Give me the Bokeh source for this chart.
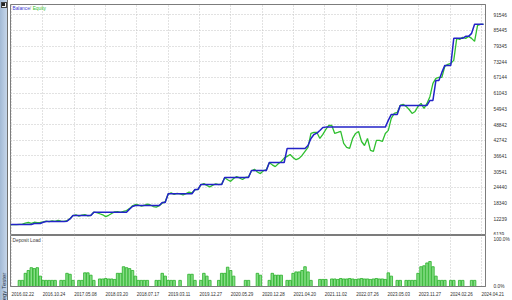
from bokeh.plotting import figure
from bokeh.models import Range1d, FixedTicker, CustomJSTickFormatter, Label, Div, ColumnDataSource
from bokeh.layouts import row, column
from bokeh.embed import file_html
from bokeh.resources import INLINE

# ---------------- data ----------------
balance = (
    [10000] * 8 + [10400] * 3 + [10900] + [11200] * 7 + [11300] + [12200]
    + [13500] * 7 + [14800] * 12 + [16000, 17000, 17400] + [17400] * 8
    + [18600] * 2 + [21950] * 9 + [23600] * 2 + [25570] * 8 + [28300] * 9
    + [31000] * 6 + [34100] * 6 + [39560] * 7
    + [40700, 43450, 45000, 45500, 46560, 47700] + [47850] * 21
    + [50450, 52780] + [52780] * 2 + [56280] * 10 + [58220] * 2 + [66000] * 2
    + [69100] + [71830] * 3 + [82330] * 4 + [83100] * 2 + [84270] + [87770] * 4
)

equity = [
    10000, 10000, 10000, 10100, 10200, 10600, 10800, 10500, 10900, 10700,
    10800, 11000, 11300, 11100, 11400, 11200, 11600, 11300, 11200, 11500,
    12300, 13500, 13800, 13300, 13700, 13900, 13400, 13600, 14800, 14600,
    14200, 13800, 13100, 13600, 14300, 14900, 15000, 14700, 15100, 15400,
    16200, 17300, 17800, 17600, 17200, 17500, 17900, 17600, 17000, 16800,
    17300, 18300, 18900, 21800, 22300, 21700, 22100, 21900, 21500, 22000,
    22600, 22300, 23500, 23700, 25400, 25900, 25200, 24600, 25300, 25800,
    25500, 25700, 28200, 27400, 26800, 27900, 28600, 28100, 27500, 28300,
    28500, 30800, 31500, 30400, 29800, 30900, 31300, 34000, 33200, 32500,
    33600, 34500, 35800, 36500, 37200, 36000, 35200, 35700, 36850, 38400,
    39950, 45400, 45790, 45790, 43450, 45000, 46950, 48500, 48500, 45400,
    45790, 46200, 41510, 39950, 39570, 43450, 45400, 46170, 42260, 40710,
    43450, 38790, 38400, 42680, 42680, 42300, 45400, 46570, 51230, 53170,
    53560, 56280, 56670, 55890, 54700, 53170, 53950, 55890, 57060, 55110,
    57060, 59780, 64830, 66770, 67160, 67160, 71440, 72220, 72610, 73770,
    82330, 81940, 82720, 82330, 83100, 82330, 81160, 87380, 87770, 87770,
]

deposit_load = [
    0, 0, 0, 13, 13, 28, 34, 40, 38, 40,
    22, 13, 13, 13, 13, 13, 0, 13, 13, 28,
    26, 13, 0, 13, 13, 29, 29, 24, 13, 0,
    16, 16, 17, 16, 16, 15, 28, 28, 42, 40,
    38, 34, 22, 13, 13, 13, 13, 0, 0, 13,
    13, 28, 22, 13, 13, 13, 0, 13, 0, 0,
    26, 26, 13, 0, 13, 28, 22, 13, 0, 0,
    13, 28, 28, 41, 34, 22, 0, 0, 0, 13,
    13, 0, 0, 28, 24, 0, 0, 13, 28, 24,
    24, 24, 0, 13, 13, 28, 31, 31, 34, 42,
    31, 13, 0, 0, 15, 15, 15, 0, 16, 16,
    15, 17, 16, 16, 17, 16, 15, 16, 17, 16,
    16, 15, 16, 17, 16, 16, 15, 29, 22, 0,
    13, 13, 0, 13, 13, 13, 13, 28, 42, 44,
    50, 53, 42, 22, 13, 13, 13, 0, 13, 13,
    0, 13, 13, 0, 0, 13, 13, 0, 0, 0,
]

value_ticks = [6139, 12239, 18340, 24440, 30541, 36641, 42742, 48842,
               54943, 61043, 67144, 73244, 79345, 85445, 91546]
date_labels = ["2016.02.22", "2016.10.24", "2017.05.08", "2018.03.20",
               "2018.07.17", "2019.03.11", "2019.12.27", "2020.05.29",
               "2020.12.28", "2021.04.20", "2021.11.02", "2022.07.26",
               "2023.05.03", "2023.11.27", "2024.02.26", "2024.04.21"]
date_ticks = [0.33 + 10.533 * k for k in range(len(date_labels))]
load_ticks = [0, 100]

trade = list(range(len(balance)))

BLUE = "#2323c8"
GREEN = "#2fbf2f"
GRID = "#c4c4c4"
FRAME = "#7c7c7c"
TXT = "#303030"
FONT = "Liberation Sans"

# ---------------- main panel ----------------
p1 = figure(width=504, height=235, x_range=Range1d(0, 159.67),
            y_range=Range1d(6139, 95480), output_backend="svg",
            toolbar_location=None, x_axis_location=None, y_axis_location="right",
            min_border_left=2, min_border_right=23, min_border_top=4,
            min_border_bottom=1)
p1.background_fill_color = "white"
p1.border_fill_color = "white"
p1.outline_line_color = FRAME
p1.outline_line_width = 1

p1.yaxis.ticker = FixedTicker(ticks=value_ticks)
p1.yaxis.formatter = CustomJSTickFormatter(code="return Math.round(tick).toString();")
p1.yaxis.major_tick_line_color = None
p1.yaxis.minor_tick_line_color = None
p1.yaxis.axis_line_color = FRAME
p1.yaxis.major_label_text_font = FONT
p1.yaxis.major_label_text_font_size = "4.8px"
p1.yaxis.major_label_text_color = TXT
p1.yaxis.major_label_standoff = 2

p1.xgrid.ticker = FixedTicker(ticks=date_ticks)
p1.ygrid.ticker = FixedTicker(ticks=value_ticks)
for g in (p1.xgrid, p1.ygrid):
    g.grid_line_color = GRID
    g.grid_line_dash = "1 2"
    g.grid_line_width = 1

src = ColumnDataSource(dict(x=trade, balance=balance, equity=equity))
p1.line("x", "equity", source=src, line_color=GREEN, line_width=1.3)
p1.line("x", "balance", source=src, line_color=BLUE, line_width=1.5)

p1.add_layout(Label(x=0.67, y=93900, text="Balance", text_color="#3a3ad0",
                    text_font=FONT, text_font_size="4.8px", text_baseline="middle"))
p1.add_layout(Label(x=6.5, y=93900, text="/", text_color="#808080",
                    text_font=FONT, text_font_size="4.8px", text_baseline="middle"))
p1.add_layout(Label(x=7.45, y=93900, text="Equity", text_color="#2fc02f",
                    text_font=FONT, text_font_size="4.8px", text_baseline="middle"))

# ---------------- deposit load panel ----------------
p2 = figure(width=504, height=65, x_range=p1.x_range, y_range=Range1d(0, 108.3),
            output_backend="svg", toolbar_location=None,
            x_axis_location="below", y_axis_location="right",
            min_border_left=2, min_border_right=23, min_border_top=0,
            min_border_bottom=9)
p2.background_fill_color = "white"
p2.border_fill_color = "white"
p2.outline_line_color = FRAME

bx = [t for t, v in zip(trade, deposit_load) if v > 0]
bv = [v for v in deposit_load if v > 0]
p2.vbar(x=bx, top=bv, width=0.85, bottom=0, fill_color="#86dd86",
        line_color="#27b027", line_width=0.8)

p2.yaxis.ticker = FixedTicker(ticks=load_ticks)
p2.yaxis.formatter = CustomJSTickFormatter(code="return tick.toFixed(1) + '%';")
p2.xaxis.ticker = FixedTicker(ticks=date_ticks)
p2.xaxis.formatter = CustomJSTickFormatter(args=dict(labels=date_labels),
                                           code="return labels[index] || '';")
for ax in (p2.xaxis, p2.yaxis):
    ax.major_tick_line_color = None
    ax.minor_tick_line_color = None
    ax.axis_line_color = FRAME
    ax.major_label_text_font = FONT
    ax.major_label_text_font_size = "4.8px"
    ax.major_label_text_color = TXT
p2.yaxis.major_label_standoff = 2
p2.xaxis.major_label_standoff = 1
p2.xaxis.major_label_orientation = -0.0001
p2.xaxis.major_label_text_font_size = "4.5px"
p2.xgrid.ticker = FixedTicker(ticks=date_ticks)
p2.xgrid.grid_line_color = GRID
p2.xgrid.grid_line_dash = "1 2"
p2.ygrid.grid_line_color = None

p2.add_layout(Label(x=0.67, y=98, text="Deposit Load", text_color="#404040",
                    text_font=FONT, text_font_size="4.8px", text_baseline="middle"))

# ---------------- left tester tab ----------------
tab_html = (
    '<div style="position:absolute;left:0;top:0;width:8px;height:300px;overflow:hidden;'
    'background:linear-gradient(90deg,#a3bad6,#cbdaed);">'
    '<div style="position:absolute;left:1px;top:2px;width:6px;height:6px;background:#f4f4f4;'
    'border:1px solid #444;box-sizing:border-box;"></div>'
    '<div style="position:absolute;left:2px;top:3px;width:3px;height:3px;background:#222;"></div>'
    '<div style="position:absolute;left:0px;top:313px;transform:rotate(-90deg);'
    'transform-origin:0 0;white-space:nowrap;font:6px \'Liberation Sans\';color:#223344;'
    'line-height:8px;">Strategy Tester</div>'
    '<div style="position:absolute;left:7px;top:0;width:1px;height:300px;background:#6f6f6f;"></div>'
    '</div>'
)
tab = Div(text=tab_html, width=8, height=300, margin=0,
          styles={"overflow": "hidden", "position": "relative"})

layout = row(tab, column(p1, p2, spacing=0), spacing=0)

open("out.html", "w").write(file_html(layout, INLINE))
